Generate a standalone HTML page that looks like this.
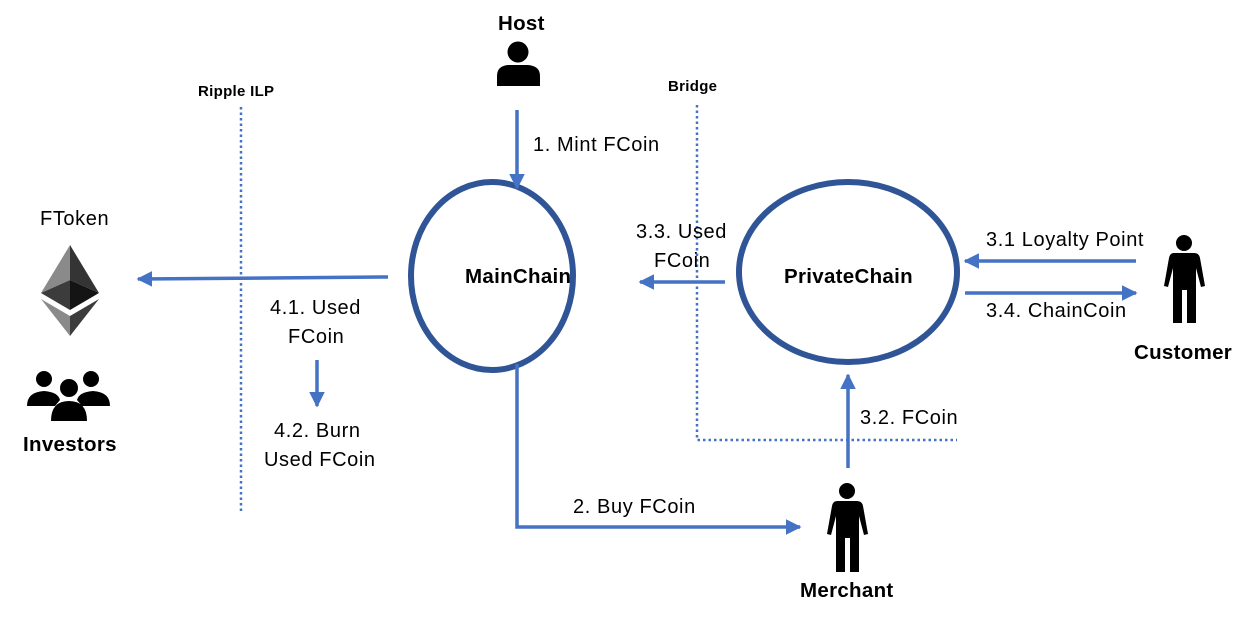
<!DOCTYPE html>
<html><head><meta charset="utf-8"><style>
body{margin:0;background:#fff;width:1248px;height:618px;overflow:hidden}
svg{display:block}
text{font-family:"Liberation Sans",sans-serif;font-size:20px;letter-spacing:0.6px;fill:#000}
.b{font-weight:bold;font-size:20.5px;letter-spacing:0.3px}
</style></head><body>
<svg width="1248" height="618" viewBox="0 0 1248 618">
<defs>
<marker id="a" viewBox="0 0 10 10" refX="9" refY="5" markerWidth="4.5" markerHeight="4.5" orient="auto"><path d="M0,0L10,5L0,10z" fill="#4472C4"/></marker>
</defs>
<g stroke="#4472C4" stroke-width="2.5" stroke-dasharray="2.5,3" fill="none">
<line x1="241" y1="107" x2="241" y2="512"/>
<path d="M697 105V440H957"/>
</g>
<ellipse cx="492" cy="276" rx="81" ry="94" fill="none" stroke="#2F5597" stroke-width="6"/>
<ellipse cx="848" cy="272" rx="109" ry="90" fill="none" stroke="#2F5597" stroke-width="6"/>
<g stroke="#4472C4" stroke-width="3.5" fill="none" marker-end="url(#a)">
<line x1="517" y1="110" x2="517" y2="188"/>
<line x1="388" y1="277" x2="138" y2="279"/>
<line x1="725" y1="282" x2="640" y2="282"/>
<line x1="1136" y1="261" x2="965" y2="261"/>
<line x1="965" y1="293" x2="1136" y2="293"/>
<line x1="848" y1="468" x2="848" y2="375"/>
<path d="M517 364V527H800"/>
<line x1="317" y1="360" x2="317" y2="406"/>
</g>
<text x="498" y="30" class="b">Host</text>
<text x="198" y="96" class="b" style="font-size:15px">Ripple ILP</text>
<text x="668" y="91" class="b" style="font-size:15px">Bridge</text>
<text x="533" y="151">1. Mint FCoin</text>
<text x="40" y="225">FToken</text>
<text x="636" y="238">3.3. Used</text>
<text x="654" y="267">FCoin</text>
<text x="986" y="246">3.1 Loyalty Point</text>
<text x="986" y="317">3.4. ChainCoin</text>
<text x="270" y="314">4.1. Used</text>
<text x="288" y="343">FCoin</text>
<text x="274" y="437">4.2. Burn</text>
<text x="264" y="466">Used FCoin</text>
<text x="860" y="424">3.2. FCoin</text>
<text x="573" y="513">2. Buy FCoin</text>
<text x="465" y="283" class="b">MainChain</text>
<text x="784" y="283" class="b">PrivateChain</text>
<text x="1134" y="359" class="b">Customer</text>
<text x="800" y="597" class="b">Merchant</text>
<text x="23" y="451" class="b">Investors</text>
<circle cx="518" cy="52" r="10.5"/>
<path d="M497 86V76Q497 66 508 65H528Q540 66 540 76V86Z"/>
<polygon points="70,245 41,293 70,280" fill="#8a8a8a"/>
<polygon points="70,245 99,293 70,280" fill="#343434"/>
<polygon points="41,293 70,280 70,310" fill="#3c3c3c"/>
<polygon points="99,293 70,280 70,310" fill="#141414"/>
<polygon points="41,299 70,316 70,336" fill="#8a8a8a"/>
<polygon points="99,299 70,316 70,336" fill="#3c3c3c"/>
<circle cx="44" cy="379" r="8"/><circle cx="91" cy="379" r="8"/><circle cx="69" cy="388" r="9"/>
<path d="M27 406Q27 392 44 391Q58 392 60 400L55 406Z"/>
<path d="M110 406Q110 392 93 391Q79 392 77 400L82 406Z"/>
<path d="M51 421Q51 401 69 401Q87 401 87 421Z"/>
<circle cx="1184" cy="243" r="8"/>
<path d="M1174 253H1194Q1199 253 1200 258L1205 286L1201 287L1196 268V323H1187V290H1182V323H1173V268L1168 287L1164 286L1169 258Q1170 253 1174 253Z"/>
<circle cx="847" cy="491" r="8"/>
<path d="M837 501H857Q862 501 863 506L868 534L864 535L859 516V572H850V538H845V572H836V516L831 535L827 534L832 506Q833 501 837 501Z"/>
</svg>
</body></html>
